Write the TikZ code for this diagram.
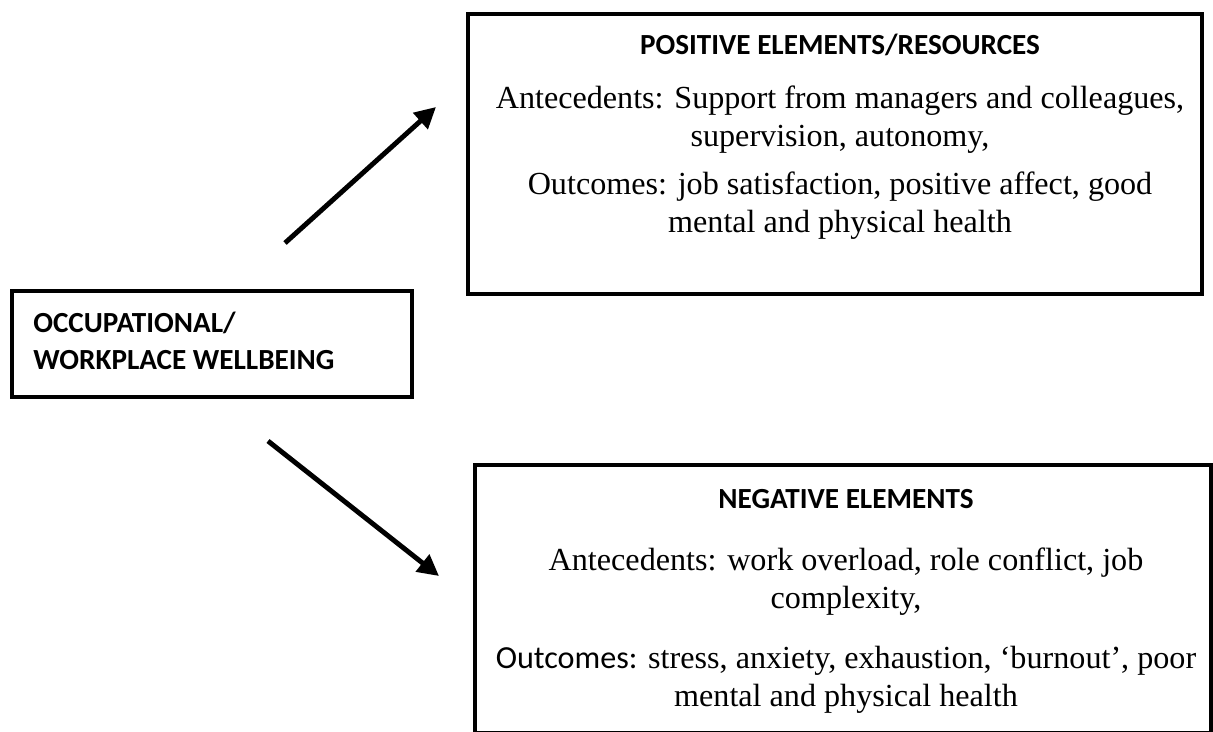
\documentclass[tikz,border=0pt]{standalone}
\usepackage{fontspec}
\setmainfont{Liberation Serif}
\newfontfamily\calfont{Carlito}
\usetikzlibrary{arrows.meta}
\tikzset{
  box/.style={draw, line width=2.3pt, inner sep=0pt},
  heading/.style={font=\calfont\bfseries\fontsize{16.6}{21}\selectfont, inner sep=0pt},
  body/.style={font=\fontsize{18.3}{21.5}\selectfont, align=center, inner sep=0pt},
  arrow/.style={line width=2.8pt, -{Triangle[length=12pt,width=12pt]}}
}
\begin{document}
\begin{tikzpicture}[x=0.02cm,y=-0.02cm]
        \useasboundingbox (0,0) rectangle (1213,731);
        %% boxes
        \node[box, minimum width=8cm, minimum height=2.12cm] (wellbeing) at (212,344) {};
        \node[box, minimum width=14.68cm, minimum height=5.6cm] (positive) at (835,154) {};
        \node[box, minimum width=14.72cm, minimum height=5.36cm] (negative) at (843,599) {};
        %% left box text (base = last line)
        \node[heading, anchor=base west, align=left] (wellbeingText) at (33,369) {OCCUPATIONAL/\\WORKPLACE WELLBEING};
        %% positive elements
        \node[heading, anchor=base] (posTitle) at (840,54) {POSITIVE ELEMENTS/RESOURCES};
        \node[body, anchor=base] (posAnte) at (840,146) {Antecedents: Support from managers and colleagues,\\supervision, autonomy,};
        \node[body, anchor=base] (posOut) at (840,232) {Outcomes: job satisfaction, positive affect, good\\mental and physical health};
        %% negative elements
        \node[heading, anchor=base] (negTitle) at (846,508) {NEGATIVE ELEMENTS};
        \node[body, anchor=base] (negAnte) at (846,608) {Antecedents: work overload, role conflict, job\\complexity,};
        \node[body, anchor=base] (negOut) at (846,706) {{\calfont Outcomes:} stress, anxiety, exhaustion, ‘burnout’, poor\\mental and physical health};
        %% arrows
        \coordinate (posTail) at (285,243);
        \coordinate (posTip) at (436,107);
        \coordinate (negTail) at (268,441);
        \coordinate (negTip) at (439,576);
        \draw[arrow] (posTail) -- (posTip);
        \draw[arrow] (negTail) -- (negTip);
\end{tikzpicture}
\end{document}
